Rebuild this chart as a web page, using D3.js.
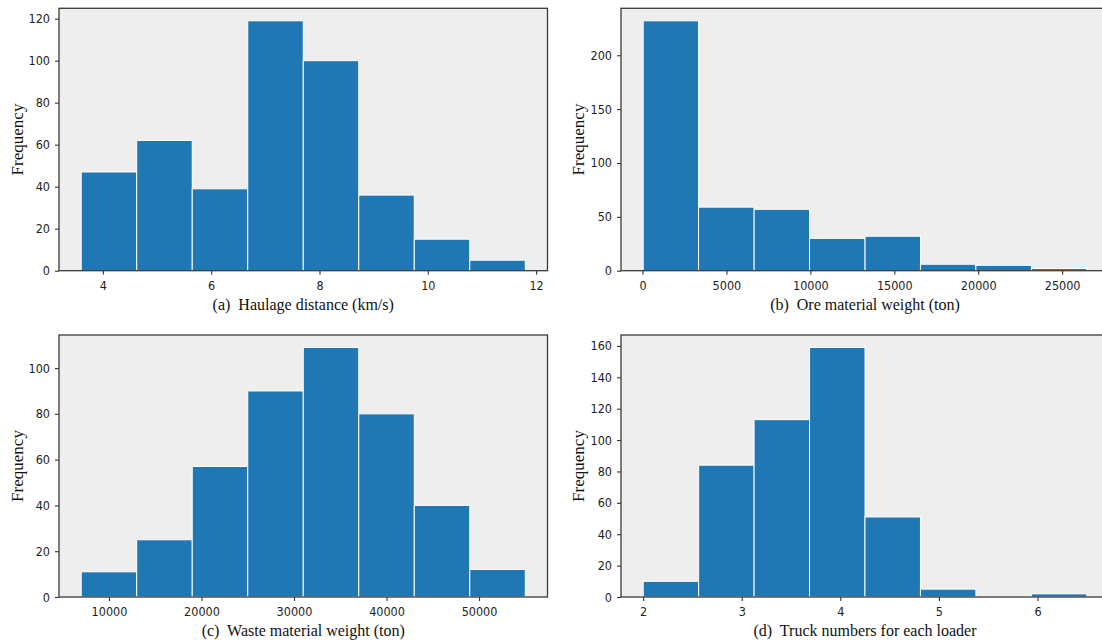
<!DOCTYPE html>
<html>
<head>
<meta charset="utf-8">
<script src="https://cdn.jsdelivr.net/npm/d3@7"></script>
<style>
  body { margin: 0; background: white; }
  svg { display: block; }
</style>
</head>
<body>
<script>

// histogram counts and bin edges
const haulageCounts = [47, 62, 39, 119, 100, 36, 15, 5]
const haulageEdges = [3.6, 4.625, 5.65, 6.675, 7.7, 8.725, 9.75, 10.775, 11.8]
const haulageTicks = [4, 6, 8, 10, 12]
const haulageFreqTicks = [0, 20, 40, 60, 80, 100, 120]

const oreCounts = [232, 59, 57, 30, 32, 6, 5, 2]
const oreEdges = [40, 3340, 6650, 9950, 13260, 16560, 19860, 23170, 26470]
const oreTicks = [0, 5000, 10000, 15000, 20000, 25000]
const oreFreqTicks = [0, 50, 100, 150, 200]

const wasteCounts = [11, 25, 57, 90, 109, 80, 40, 12]
const wasteEdges = [7000, 13000, 19000, 25000, 31000, 37000, 43000, 49000, 55000]
const wasteTicks = [10000, 20000, 30000, 40000, 50000]
const wasteFreqTicks = [0, 20, 40, 60, 80, 100]

const truckCounts = [10, 84, 113, 159, 51, 5, 0, 2]
const truckEdges = [2, 2.5625, 3.125, 3.6875, 4.25, 4.8125, 5.375, 5.9375, 6.5]
const truckTicks = [2, 3, 4, 5, 6]
const truckFreqTicks = [0, 20, 40, 60, 80, 100, 120, 140, 160]

const captions = [
    "(a)  Haulage distance (km/s)",
    "(b)  Ore material weight (ton)",
    "(c)  Waste material weight (ton)",
    "(d)  Truck numbers for each loader"
]

const svg = d3.select("body").append("svg")
            .attr("width", 1102)
            .attr("height", 644)

const panels = [
    {counts: haulageCounts, edges: haulageEdges, xticks: haulageTicks, yticks: haulageFreqTicks, left: 59, right: 547.5, top: 8.3, bottom: 270.7, labelX: 17},
    {counts: oreCounts, edges: oreEdges, xticks: oreTicks, yticks: oreFreqTicks, left: 621, right: 1109, top: 8.3, bottom: 270.7, labelX: 578},
    {counts: wasteCounts, edges: wasteEdges, xticks: wasteTicks, yticks: wasteFreqTicks, left: 59, right: 547.5, top: 335, bottom: 597, labelX: 17},
    {counts: truckCounts, edges: truckEdges, xticks: truckTicks, yticks: truckFreqTicks, left: 621, right: 1109, top: 335, bottom: 597, labelX: 578}
]

panels.forEach((p, i) => {
    const lo = p.edges[0], hi = p.edges[p.edges.length - 1]
    const pad = (hi - lo) * 0.05
    const x = d3.scaleLinear().domain([lo - pad, hi + pad]).range([p.left, p.right])
    const y = d3.scaleLinear().domain([0, d3.max(p.counts) * 1.05]).range([p.bottom, p.top])

    const g = svg.append("g")

    g.append("rect")
        .attr("x", p.left)
        .attr("y", p.top)
        .attr("width", p.right - p.left)
        .attr("height", p.bottom - p.top)
        .style("fill", "#eeeeee")

    const bins = p.counts.map((c, j) => ({count: c, x0: p.edges[j], x1: p.edges[j + 1]}))

    g.selectAll(".bar")
        .data(bins)
        .join("rect")
        .attr("class", "bar")
        .attr("x", d => x(d.x0))
        .attr("width", d => x(d.x1) - x(d.x0))
        .attr("y", d => y(d.count))
        .attr("height", d => y(0) - y(d.count))
        .style("fill", "#1f77b4")
        .style("stroke", "white")
        .style("stroke-width", 1)

    const xAxis = g.append("g")
        .attr("transform", `translate(0,${p.bottom})`)
        .call(d3.axisBottom(x).tickValues(p.xticks).tickFormat(d3.format("d")).tickSize(4).tickPadding(6).tickSizeOuter(0))
    const yAxis = g.append("g")
        .attr("transform", `translate(${p.left},0)`)
        .call(d3.axisLeft(y).tickValues(p.yticks).tickFormat(d3.format("d")).tickSize(4).tickPadding(5).tickSizeOuter(0))

    ;[xAxis, yAxis].forEach(a => {
        a.select(".domain").remove()
        a.selectAll("line").style("stroke", "#333").style("stroke-width", 1.1)
        a.selectAll("text")
            .style("font-family", "'DejaVu Sans Condensed', 'DejaVu Sans'")
            .style("font-stretch", "condensed")
            .style("font-size", "12.5px")
            .style("fill", "#1e1e1e")
    })

    g.append("rect")
        .attr("x", p.left)
        .attr("y", p.top)
        .attr("width", p.right - p.left)
        .attr("height", p.bottom - p.top)
        .style("fill", "none")
        .style("stroke", "#3a3a3a")
        .style("stroke-width", 1.3)

    g.append("text")
        .attr("transform", `translate(${p.labelX},${(p.top + p.bottom) / 2}) rotate(-90)`)
        .attr("text-anchor", "middle")
        .attr("dy", "0.35em")
        .style("font-family", "Liberation Serif")
        .style("font-size", "17px")
        .style("fill", "#111")
        .text("Frequency")

    g.append("text")
        .attr("x", (p.left + p.right) / 2)
        .attr("y", p.bottom + 39)
        .attr("text-anchor", "middle")
        .style("white-space", "pre")
        .style("font-family", "Liberation Serif")
        .style("font-size", "16px")
        .style("fill", "#111")
        .text(captions[i])
})

</script>
</body>
</html>
